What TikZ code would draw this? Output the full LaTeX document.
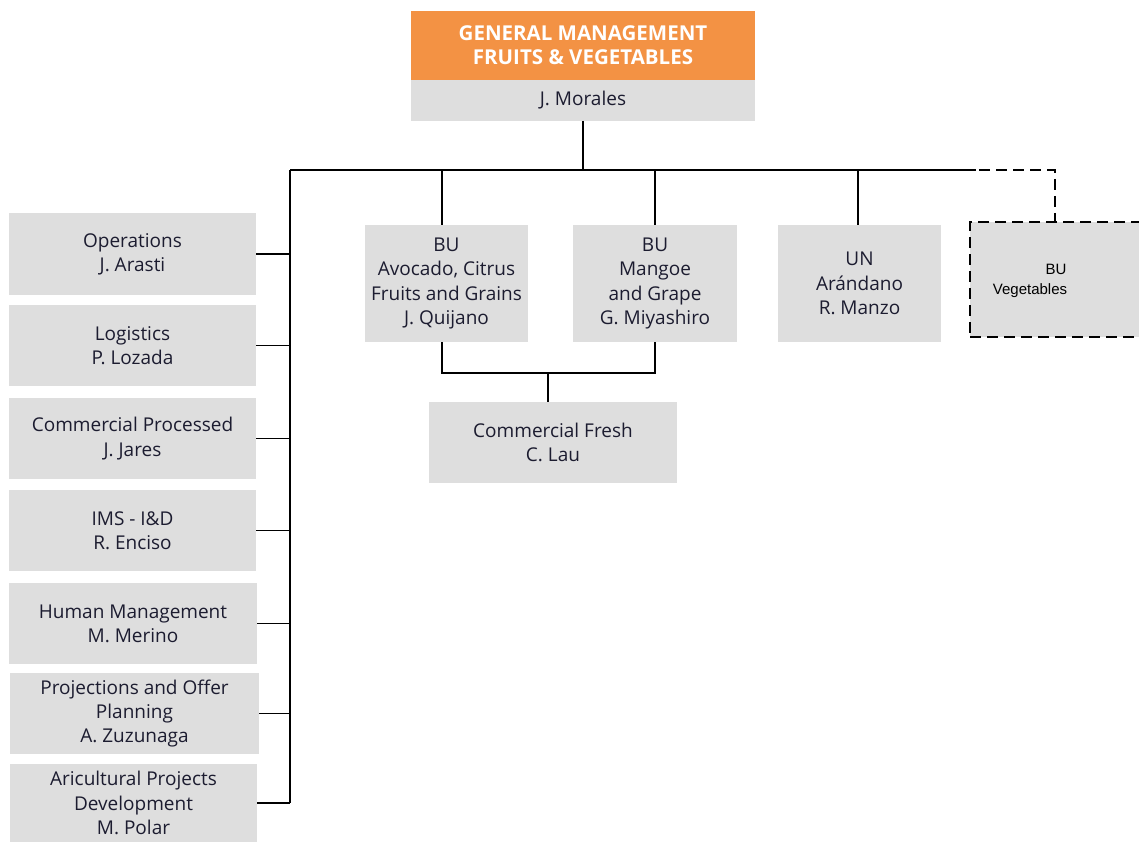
\documentclass[tikz,border=0pt]{standalone}
\usepackage{fontspec}
\setmainfont{Open Sans}
\newfontfamily\arialfont{Liberation Sans}
\definecolor{boxgray}{HTML}{DEDEDE}
\definecolor{headorange}{HTML}{F39244}
\definecolor{inktext}{HTML}{1C1C30}
\begin{document}
\begin{tikzpicture}[x=1pt,y=-1pt,
  unit/.style={fill=boxgray, inner sep=0pt, outer sep=0pt, align=center,
    text=inktext, font=\fontsize{19}{24.3}\selectfont},
  link/.style={draw=black, line width=1.3pt},
  dashlink/.style={draw=black, line width=1.6pt, dash pattern=on 11pt off 6pt}]
\useasboundingbox (0,0) rectangle (1139,842);

% head of the division
\node[fill=headorange, inner sep=0pt, minimum width=344pt, minimum height=69pt,
  align=center, text=white, font=\bfseries\fontsize{20.5}{24}\selectfont]
  (gm) at (583,45.5) {GENERAL MANAGEMENT\\FRUITS \& VEGETABLES};
\node[unit, minimum width=344pt, minimum height=41pt] (gmname) at (583,100.5) {J. Morales};

% staff units on the left
\node[unit, minimum width=247pt, minimum height=82pt] (ops)  at (132.5,254)   {Operations\\J. Arasti};
\node[unit, minimum width=247pt, minimum height=81pt] (logi) at (132.5,345.5) {Logistics\\P. Lozada};
\node[unit, minimum width=247pt, minimum height=81pt] (cproc) at (132.5,438.5) {Commercial Processed\\J. Jares};
\node[unit, minimum width=247pt, minimum height=81pt] (ims)  at (132.5,530.5) {IMS - I\&D\\R. Enciso};
\node[unit, minimum width=248pt, minimum height=81pt] (hum)  at (133,623.5)   {Human Management\\M. Merino};
\node[unit, minimum width=249pt, minimum height=81pt] (proj) at (134.5,713.5) {Projections and Offer\\Planning\\A. Zuzunaga};
\node[unit, minimum width=247pt, minimum height=78pt] (agri) at (133.5,803)   {Aricultural Projects\\Development\\M. Polar};

% business units
\node[unit, minimum width=163pt, minimum height=117pt] (avo) at (446.5,283.5)
  {BU\\Avocado, Citrus\\Fruits and Grains\\J. Quijano};
\node[unit, minimum width=164pt, minimum height=117pt] (mango) at (655,283.5)
  {BU\\Mangoe\\and Grape\\G. Miyashiro};
\node[unit, minimum width=163pt, minimum height=117pt] (blue) at (859.5,283.5)
  {UN\\Ar\'andano\\R. Manzo};
\node[unit, minimum width=248pt, minimum height=81pt] (fresh) at (553,442.5)
  {Commercial Fresh\\C. Lau};

% planned unit
\node[fill=boxgray, draw=black, line width=1.6pt, dash pattern=on 11pt off 6pt,
  inner sep=0pt, minimum width=190pt, minimum height=115pt] (veg) at (1065,279.5) {};
\node[font=\arialfont\fontsize{15}{21}\selectfont, inner sep=0pt] (vegbu) at (1056,269) {BU};
\node[font=\arialfont\fontsize{15}{21}\selectfont, inner sep=0pt] (vegname) at (1030,291) {Vegetables};

% reporting lines
\coordinate (hub) at (583,170);
\coordinate (busTop) at (290,170);
\coordinate (lineEnd) at (976,170);
\coordinate (dashStart) at (962,170);
\coordinate (dashCorner) at (1055,170);
\coordinate (vegTap) at (1055,222);
\coordinate (join) at (548,373);

\draw[link] (gmname.south) -- (hub);
\draw[link] (busTop) -- (lineEnd);
\draw[link] (busTop) -- (agri.east -| busTop);
\foreach \u in {ops,logi,cproc,ims,hum,proj,agri}
  \draw[link] (\u.east) -- (\u.east -| busTop);
\draw[link] ([xshift=-4.5pt]avo.north) -- ([xshift=-4.5pt]avo.north |- hub);
\draw[link] (mango.north) -- (mango.north |- hub);
\draw[link] ([xshift=-1.5pt]blue.north) -- ([xshift=-1.5pt]blue.north |- hub);
\draw[dashlink] (dashStart) -- (dashCorner) -- (vegTap);

% both fresh-fruit units share the commercial area
\draw[link] ([xshift=-4.5pt]avo.south) -- ([xshift=-4.5pt]avo.south |- join) -- (mango.south |- join) -- (mango.south);
\draw[link] (join) -- (fresh.north -| join);
\end{tikzpicture}
\end{document}
